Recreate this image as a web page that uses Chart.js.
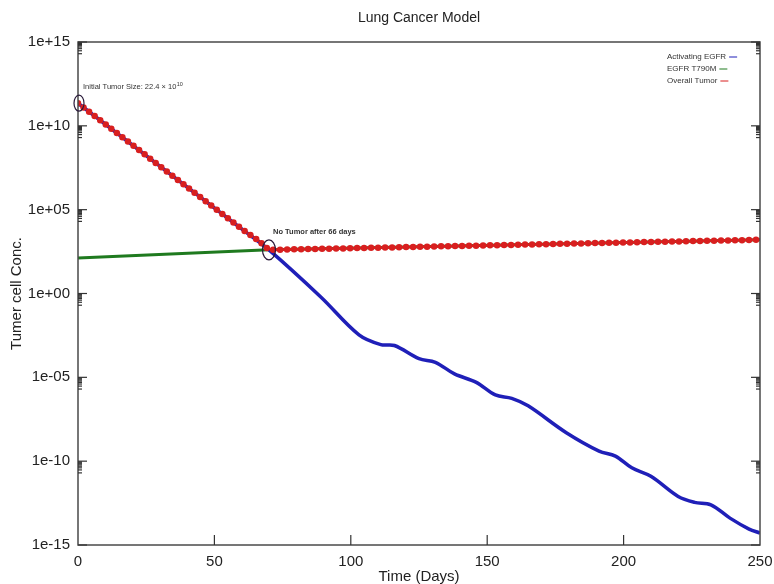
<!DOCTYPE html>
<html>
<head>
<meta charset="utf-8">
<title>Lung Cancer Model</title>
<script src="https://cdn.jsdelivr.net/npm/chart.js@4/dist/chart.umd.min.js"></script>
<style>
    body { margin: 0; background: #ffffff; }
</style>
</head>
<body>
<canvas id="lungChart" width="774" height="584"></canvas>
<script>
// Activating EGFR population (cells) over time (days)
const activatingDays = [0, 60, 70, 89, 103, 111, 116, 125, 131, 138, 146, 153, 159, 165,
                        179, 191, 197, 203, 210, 220, 226, 232, 239, 246, 250];
const activatingValues = [2.24e11, 7.1e3, 4.0e2, 6.2e-1, 3.4e-3, 8.9e-4, 7.9e-4, 1.3e-4, 7.9e-5, 1.6e-5, 5.0e-6,
                          8.9e-7, 5.6e-7, 2.0e-7, 5.0e-9, 4.0e-10, 2.0e-10, 4.0e-11, 1.26e-11, 7.9e-13, 3.5e-13,
                          2.5e-13, 4.0e-14, 8.9e-15, 5.2e-15];

// EGFR T790M resistant population
const t790mDays = [0, 70, 250];
const t790mValues = [1.3e2, 4.0e2, 1.6e3];

// Overall tumor
const overallDays = [0, 60, 66, 70, 100, 150, 200, 250];
const overallValues = [2.24e11, 7.1e3, 1.5e3, 4.0e2, 5.0e2, 7.4e2, 1.1e3, 1.6e3];

const yTickValues = [1e-15, 1e-10, 1e-5, 1, 1e5, 1e10, 1e15];
const yTickLabels = ['1e-15', '1e-10', '1e-05', '1e+00', '1e+05', '1e+10', '1e+15'];
const xTickValues = [0, 50, 100, 150, 200, 250];

const seriesNames = ['Activating EGFR', 'EGFR T790M', 'Overall Tumor'];
const seriesColors = ['#1f1fb8', '#1f7a1f', '#d81f1f'];

const FONT = '"Liberation Sans", Arial, Helvetica, sans-serif';

function pts(days, values) {
    return days.map((d, i) => ({ x: d, y: values[i] }));
}

// frame, inward tick marks, legend, title and notes
const decorations = {
    id: 'decorations',
    afterDatasetsDraw(chart) {
        const { ctx, chartArea: a, scales: { x, y } } = chart;
        const line = (x1, y1, x2, y2) => {
            ctx.beginPath(); ctx.moveTo(x1, y1); ctx.lineTo(x2, y2); ctx.stroke();
        };
        ctx.save();

        ctx.strokeStyle = '#4a4a4a';
        ctx.lineWidth = 1.5;
        ctx.strokeRect(a.left, a.top, a.right - a.left, a.bottom - a.top);

        ctx.strokeStyle = '#333';
        ctx.lineWidth = 1.2;
        yTickValues.forEach(v => {
            const py = y.getPixelForValue(v);
            line(a.left, py, a.left + 9, py);
            line(a.right - 9, py, a.right, py);
            if (v > yTickValues[0]) {
                for (let k = 2; k <= 9; k++) {
                    const my = y.getPixelForValue(k * v / 10);
                    line(a.left, my, a.left + 4, my);
                    line(a.right - 4, my, a.right, my);
                }
            }
        });
        xTickValues.slice(1, -1).forEach(v => {
            const px = x.getPixelForValue(v);
            line(px, a.bottom, px, a.bottom - 10);
        });

        // title
        ctx.fillStyle = '#222';
        ctx.font = '14px ' + FONT;
        ctx.textAlign = 'center';
        ctx.textBaseline = 'middle';
        ctx.fillText('Lung Cancer Model', (a.left + a.right) / 2, 18);

        // legend
        ctx.font = '8px ' + FONT;
        ctx.textAlign = 'left';
        seriesNames.forEach((name, i) => {
            const ly = a.top + 15 + i * 12;
            ctx.fillStyle = '#333';
            ctx.fillText(name, a.right - 93, ly);
            const w = ctx.measureText(name).width;
            ctx.strokeStyle = seriesColors[i];
            ctx.lineWidth = 1;
            line(a.right - 93 + w + 3, ly, a.right - 93 + w + 11, ly);
        });

        // start and end of the tumour
        ctx.strokeStyle = '#2a1a3a';
        ctx.lineWidth = 1.2;
        const sx = x.getPixelForValue(overallDays[0]);
        const sy = y.getPixelForValue(overallValues[0]);
        ctx.beginPath(); ctx.ellipse(sx + 1, sy, 5, 8, 0, 0, Math.PI * 2); ctx.stroke();
        const ex = x.getPixelForValue(overallDays[3]);
        const ey = y.getPixelForValue(overallValues[3]);
        ctx.beginPath(); ctx.ellipse(ex, ey, 6.5, 10, 0, 0, Math.PI * 2); ctx.stroke();

        ctx.fillStyle = '#333';
        ctx.font = '7.5px ' + FONT;
        const note = 'Initial Tumor Size: 22.4 \u00d7 10';
        ctx.fillText(note, sx + 5, sy - 16);
        const nw = ctx.measureText(note).width;
        ctx.font = '5.5px ' + FONT;
        ctx.fillText('10', sx + 5 + nw + 0.5, sy - 19);

        ctx.font = 'bold 7.5px ' + FONT;
        ctx.fillText('No Tumor after 66 days', ex + 4, ey - 18);

        ctx.restore();
    }
};

new Chart(document.getElementById('lungChart'), {
    type: 'line',
    data: {
        datasets: [
            {
                // red beads along the overall tumor curve
                label: seriesNames[2],
                data: pts(overallDays, overallValues),
                borderColor: seriesColors[2],
                borderWidth: 6.5,
                borderDash: [0, 7],
                borderCapStyle: 'round',
                pointRadius: 0,
                tension: 0,
                order: 0
            },
            {
                label: seriesNames[0],
                data: pts(activatingDays, activatingValues),
                borderColor: seriesColors[0],
                borderWidth: 3.5,
                pointRadius: 0,
                tension: 0.35,
                order: 1
            },
            {
                label: seriesNames[2],
                data: pts(overallDays, overallValues),
                borderColor: seriesColors[2],
                borderWidth: 2.5,
                pointRadius: 0,
                tension: 0,
                order: 2
            },
            {
                label: seriesNames[1],
                data: pts(t790mDays, t790mValues),
                borderColor: seriesColors[1],
                borderWidth: 3,
                pointRadius: 0,
                tension: 0,
                order: 3
            }
        ]
    },
    options: {
        responsive: false,
        animation: false,
        devicePixelRatio: 1,
        layout: { padding: { top: 42, right: 14, left: 0, bottom: 0 } },
        plugins: {
            legend: { display: false },
            title: { display: false },
            tooltip: { enabled: false }
        },
        scales: {
            x: {
                type: 'linear',
                min: 0,
                max: 250,
                afterBuildTicks: s => { s.ticks = xTickValues.map(v => ({ value: v })); },
                afterFit: s => { s.height = 39; s.paddingLeft = 0; s.paddingRight = 0; },
                grid: { display: false, drawTicks: false },
                border: { display: false },
                ticks: { padding: 8, color: '#222', font: { family: FONT, size: 15 }, maxRotation: 0, autoSkip: false },
                title: { display: true, text: 'Time (Days)', color: '#222', font: { family: FONT, size: 15, lineHeight: 1 }, padding: { top: 0, bottom: 0 } }
            },
            y: {
                type: 'logarithmic',
                min: 1e-15,
                max: 1e15,
                afterBuildTicks: s => { s.ticks = yTickValues.map(v => ({ value: v })); },
                afterFit: s => { s.width = 78; s.paddingTop = 0; s.paddingBottom = 0; },
                grid: { display: false, drawTicks: false },
                border: { display: false },
                ticks: {
                    padding: 8,
                    color: '#222',
                    font: { family: FONT, size: 15 },
                    autoSkip: false,
                    callback: (v, i) => yTickLabels[i]
                },
                title: { display: true, text: 'Tumer cell Conc.', color: '#222', font: { family: FONT, size: 15 }, padding: { top: 8, bottom: 0 } }
            }
        }
    },
    plugins: [decorations]
});
</script>
</body>
</html>
